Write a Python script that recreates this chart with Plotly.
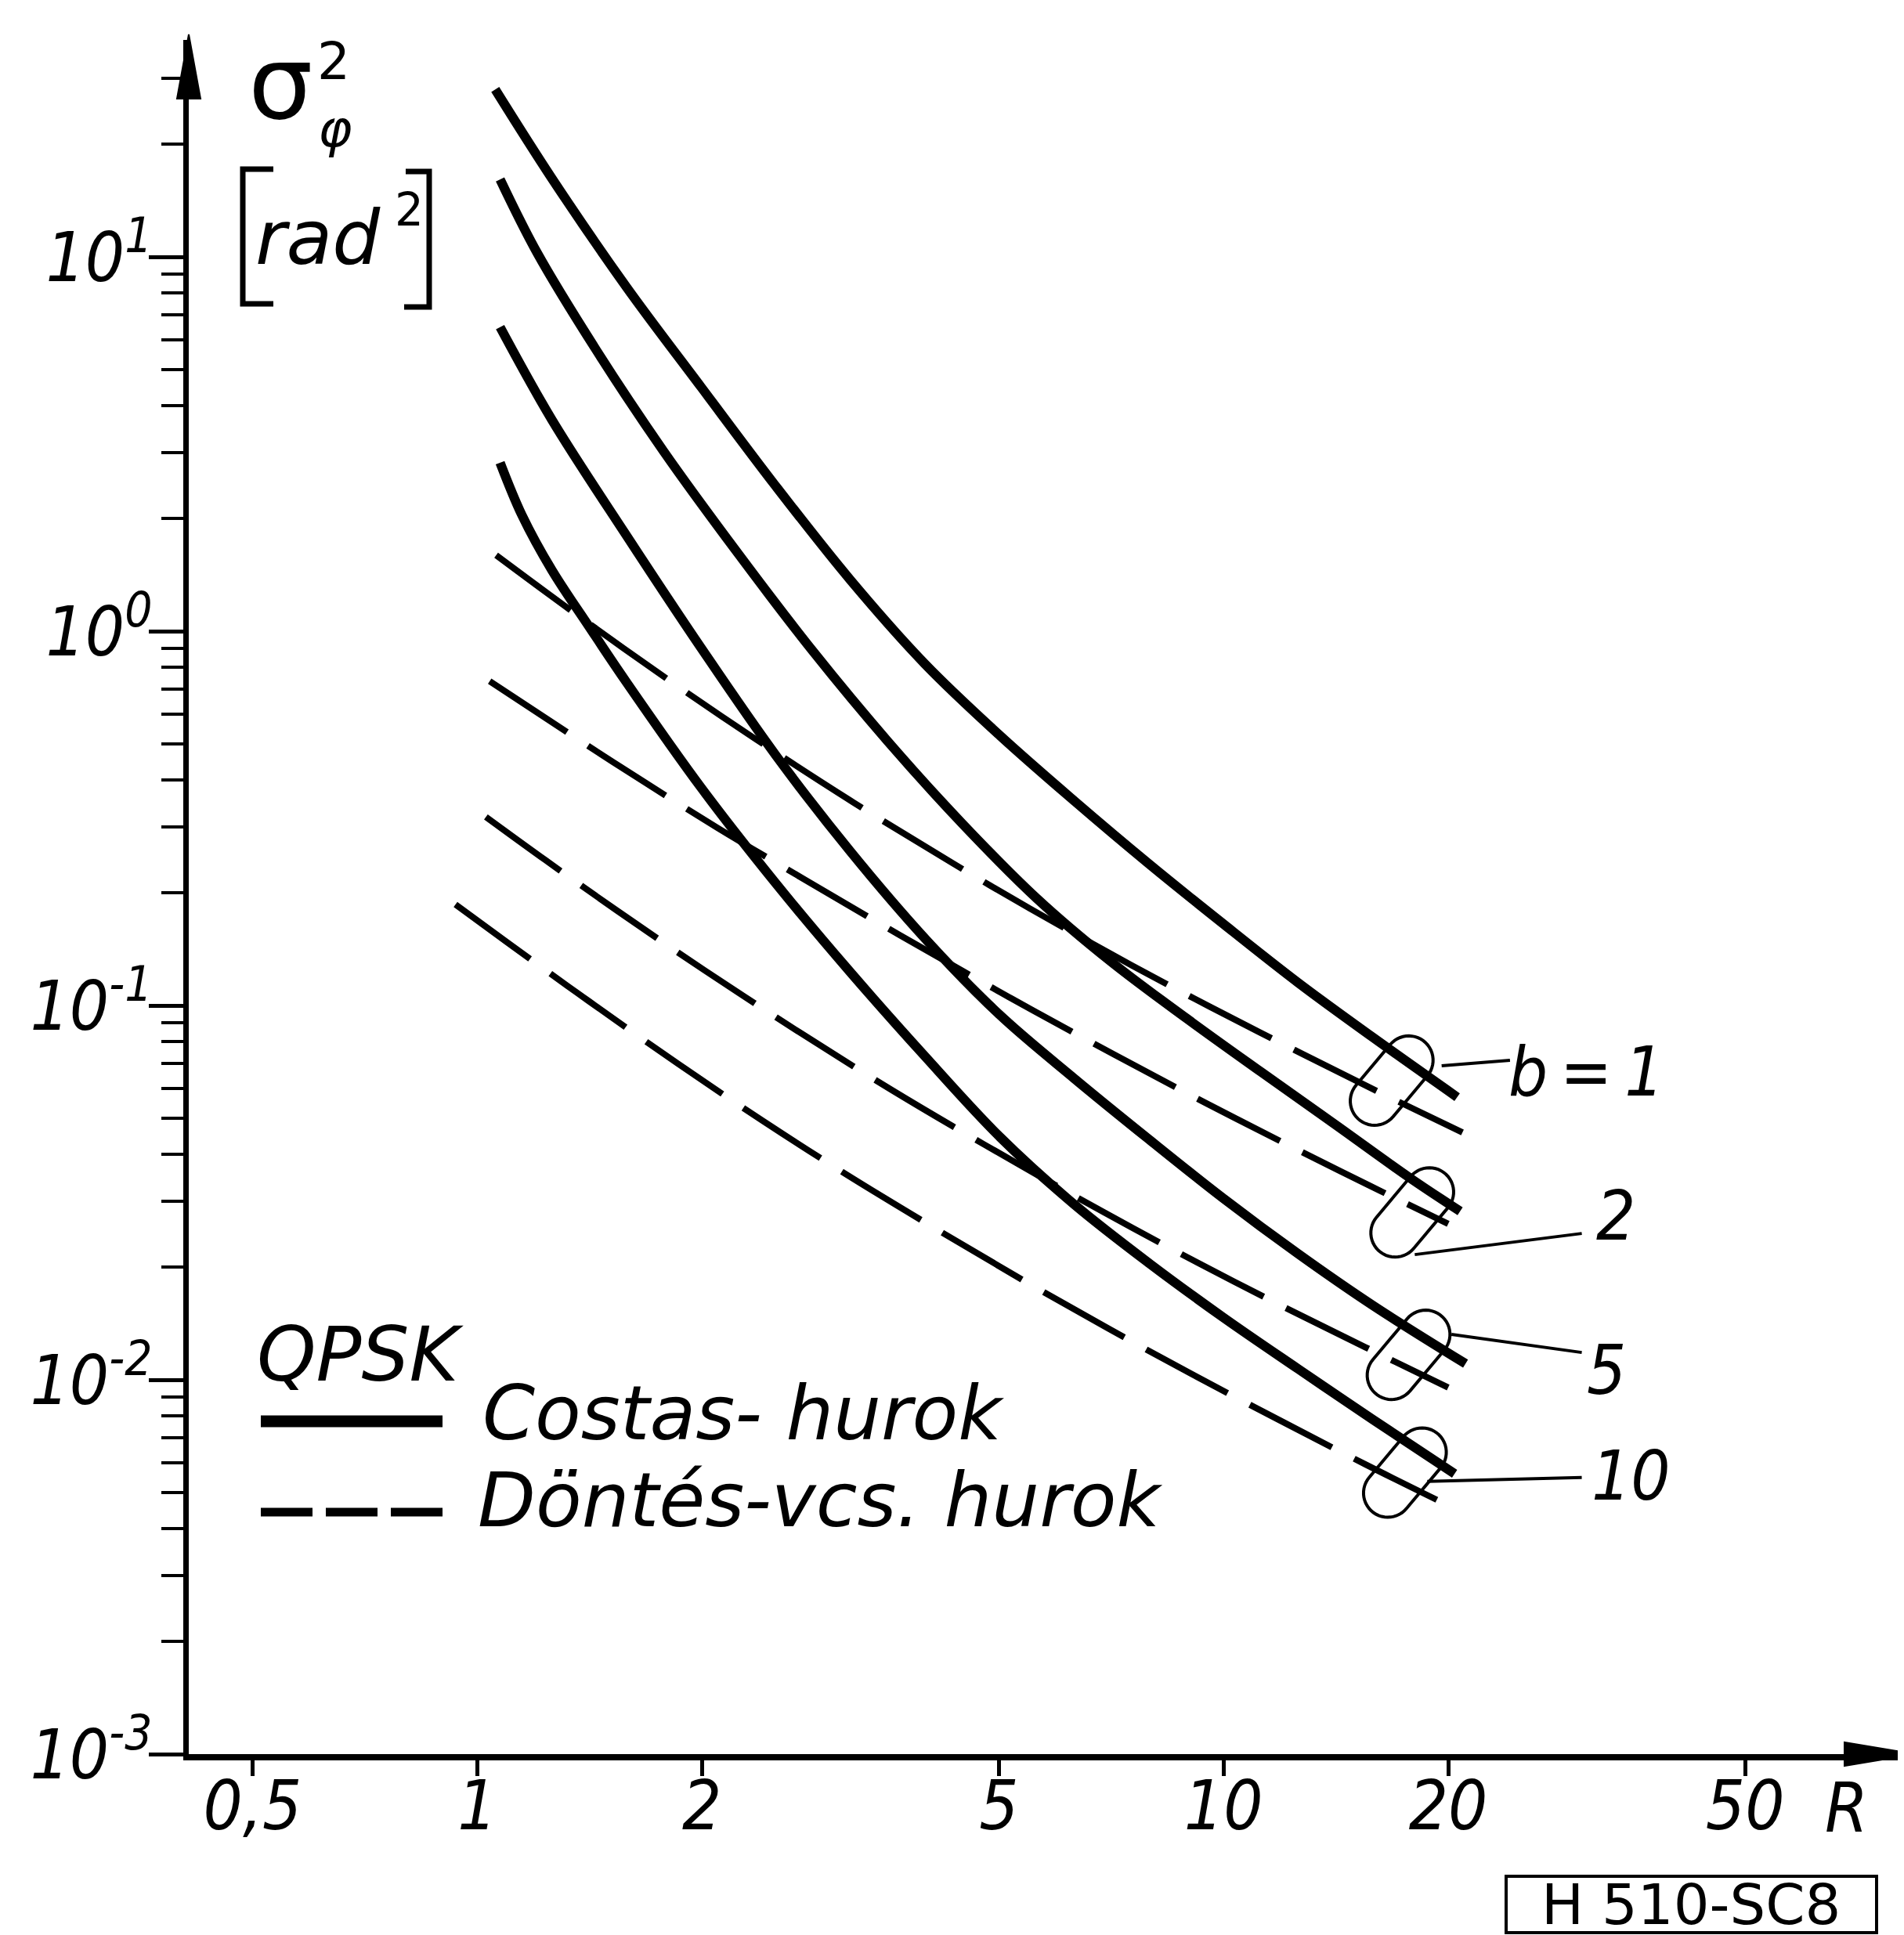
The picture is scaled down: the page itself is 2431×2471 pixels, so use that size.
import numpy as np
import plotly.graph_objects as go

# ---------------- data ----------------
b_values = [1, 2, 5, 10]

R_costas_b1 = [1.057, 1.259, 1.585, 1.995, 2.512, 3.162, 3.981, 5.012, 6.310, 7.943, 10.0, 12.59, 15.85, 20.56]
G_costas_b1 = [28.0, 16.2, 8.30, 4.49, 2.44, 1.37, 0.817, 0.527, 0.352, 0.239, 0.165, 0.115, 0.0822, 0.0569]

R_costas_b2 = [1.073, 1.202, 1.445, 1.778, 2.239, 2.818, 3.548, 4.467, 5.623, 7.079, 8.913, 11.22, 14.13, 17.78, 20.75]
G_costas_b2 = [16.1, 10.28, 5.62, 3.02, 1.607, 0.883, 0.508, 0.306, 0.193, 0.1306, 0.0925, 0.0665, 0.0480, 0.0346, 0.0282]

R_costas_b5 = [1.073, 1.259, 1.585, 1.995, 2.512, 3.162, 3.981, 5.012, 6.310, 7.943, 10.0, 12.59, 15.85, 21.1]
G_costas_b5 = [6.49, 3.67, 1.80, 0.902, 0.466, 0.258, 0.151, 0.0944, 0.0638, 0.0439, 0.0305, 0.0217, 0.0158, 0.01104]

R_costas_b10 = [1.073, 1.148, 1.259, 1.413, 1.585, 1.995, 2.512, 3.162, 3.981, 5.012, 6.310, 7.943, 10.0, 12.59, 15.85, 20.4]
G_costas_b10 = [2.82, 2.04, 1.455, 1.026, 0.730, 0.382, 0.212, 0.1227, 0.0731, 0.0446, 0.0294, 0.0205, 0.01466, 0.01069, 0.00783, 0.00561]

R_dd_b1 = [1.060, 1.373, 1.844, 2.36, 3.19, 4.32, 5.50, 7.54, 9.60, 12.74, 16.5, 20.9]
G_dd_b1 = [1.596, 1.091, 0.719, 0.515, 0.349, 0.241, 0.1816, 0.1279, 0.0991, 0.0743, 0.0575, 0.0458]

R_dd_b2 = [1.039, 1.356, 1.662, 2.10, 2.735, 3.68, 5.15, 7.14, 9.48, 12.58, 15.7, 20.0]
G_dd_b2 = [0.735, 0.5185, 0.399, 0.298, 0.218, 0.1543, 0.1055, 0.0739, 0.0548, 0.0411, 0.0330, 0.0261]

R_dd_b5 = [1.027, 1.234, 1.542, 2.012, 2.70, 3.59, 4.78, 6.92, 8.65, 11.7, 15.5, 20.0]
G_dd_b5 = [0.319, 0.2446, 0.1788, 0.1245, 0.0849, 0.0595, 0.0425, 0.02799, 0.02201, 0.01612, 0.01221, 0.00954]

R_dd_b10 = [0.935, 1.099, 1.413, 1.857, 2.416, 3.10, 4.10, 5.37, 7.01, 9.08, 11.93, 15.5, 19.9]
G_dd_b10 = [0.1862, 0.1470, 0.1025, 0.0699, 0.0491, 0.0357, 0.02543, 0.01852, 0.01371, 0.01034, 0.00777, 0.00594, 0.00464]

x_tickvals = [0.5, 1, 2, 5, 10, 20, 50]
x_ticktext = ["0,5", "1", "2", "5", "10", "20", "50"]
y_tickvals = [1e-3, 1e-2, 1e-1, 1e0, 1e1]
y_ticktext = ["10<sup>-3</sup>", "10<sup>-2</sup>", "10<sup>-1</sup>", "10<sup>0</sup>", "10<sup>1</sup>"]
label_texts = ["b\u2009=\u20091", "2", "5", "10"]

# ---------------- layout geometry ----------------
W, H = 2431, 2471
ML, MR, MT, MB = 233, 0, 43, 239
PW, PH = W - ML - MR, H - MT - MB
XR = [-0.3866, 1.9202]
YR = [-3.0, 1.5795]

TXT = "DejaVu Sans"
NUM = "Liberation Sans Narrow, DejaVu Sans Condensed, DejaVu Sans"
FS = 96
FN = 88

def dpx(R):
    return (np.log10(R) - XR[0]) / (XR[1] - XR[0])

def dpy(G):
    return (np.log10(G) - YR[0]) / (YR[1] - YR[0])

def ppx(X):
    return (X - ML) / PW

def ppy(Y):
    return (H - MB - Y) / PH

fig = go.Figure()

costas = [(R_costas_b1, G_costas_b1), (R_costas_b2, G_costas_b2),
          (R_costas_b5, G_costas_b5), (R_costas_b10, G_costas_b10)]
dd = [(R_dd_b1, G_dd_b1), (R_dd_b2, G_dd_b2), (R_dd_b5, G_dd_b5), (R_dd_b10, G_dd_b10)]

for b, (rx, gy) in zip(b_values, dd):
    fig.add_trace(go.Scatter(x=rx, y=gy, mode="lines", name=f"Döntés-vcs. hurok b={b}",
                             line=dict(color="black", width=8, dash="118px,32px",
                                       shape="spline", smoothing=1.0),
                             showlegend=False))
for b, (rx, gy) in zip(b_values, costas):
    fig.add_trace(go.Scatter(x=rx, y=gy, mode="lines", name=f"Costas-hurok b={b}",
                             line=dict(color="black", width=12, shape="spline", smoothing=1.0),
                             showlegend=False))

shapes = []
annotations = []

# capsules around the curve ends (decoration anchored in data space)
capsule_centers = [(16.8, 0.0630), (17.9, 0.028), (17.7, 0.01166), (17.5, 0.00565)]

def capsule(Rc, Gc, h=34, r=31, ang=50):
    cx, cy = dpx(Rc), dpy(Gc)
    a = np.radians(ang)
    ux, uy = np.cos(a), np.sin(a)
    pts = []
    for sgn, start in ((1, a + np.pi / 2), (-1, a - np.pi / 2)):
        for p in np.linspace(start, start - np.pi, 26):
            ox = sgn * h * ux + r * np.cos(p)
            oy = sgn * h * uy + r * np.sin(p)
            pts.append((cx + ox / PW, cy + oy / PH))
    return "M " + " L ".join(f"{x:.5f},{y:.5f}" for x, y in pts) + " Z"

for (Rc, Gc) in capsule_centers:
    shapes.append(dict(type="path", xref="paper", yref="paper", path=capsule(Rc, Gc),
                       line=dict(color="black", width=4)))

# leader lines and labels
leader_from = [(19.6, 0.0690), (18.04, 0.0216), (20.2, 0.01322), (18.75, 0.00535)]
leader_to = [(24.2, 0.0714), (30.2, 0.0246), (30.2, 0.01183), (30.2, 0.00548)]
label_pos = [(24.0, 0.0667), (31.4, 0.0274), (30.5, 0.0106), (31.0, 0.00553)]
for (r0, g0), (r1, g1) in zip(leader_from, leader_to):
    shapes.append(dict(type="line", xref="paper", yref="paper",
                       x0=dpx(r0), y0=dpy(g0), x1=dpx(r1), y1=dpy(g1),
                       line=dict(color="black", width=4)))
for txt, (rl, gl) in zip(label_texts, label_pos):
    annotations.append(dict(text=f"<i>{txt}</i>", x=dpx(rl), y=dpy(gl),
                            xanchor="left", yanchor="middle",
                            font=dict(family=NUM, size=FN, color="black")))

# axis arrow heads
def poly(points, close=True):
    s = "M " + " L ".join(f"{ppx(X):.5f},{ppy(Y):.5f}" for X, Y in points)
    return s + (" Z" if close else "")

shapes.append(dict(type="path", xref="paper", yref="paper",
                   path=poly([(ML, 36), (ML - 15, 118), (ML + 15, 118)]),
                   fillcolor="black", line=dict(color="black", width=2)))
shapes.append(dict(type="path", xref="paper", yref="paper",
                   path=poly([(W + 6, H - MB), (W - 84, H - MB - 15), (W - 84, H - MB + 15)]),
                   fillcolor="black", line=dict(color="black", width=2)))

# y-axis unit label [rad^2]
for pts in ([(341, 208), (302, 208), (302, 380), (341, 380)],
            [(510, 211), (540, 211), (540, 384), (508, 384)]):
    shapes.append(dict(type="path", xref="paper", yref="paper", path=poly(pts, close=False),
                       line=dict(color="black", width=7)))
annotations += [
    dict(text="<i>rad</i>", x=ppx(316), y=ppy(296), xanchor="left", yanchor="middle",
         font=dict(family=TXT, size=FS, color="black")),
    dict(text="2", x=ppx(514), y=ppy(260), xanchor="center", yanchor="middle",
         font=dict(family=TXT, size=58, color="black")),
    dict(text="σ", x=ppx(350), y=ppy(98), xanchor="center", yanchor="middle",
         font=dict(family=TXT, size=130, color="black")),
    dict(text="2", x=ppx(418), y=ppy(70), xanchor="center", yanchor="middle",
         font=dict(family=TXT, size=66, color="black")),
    dict(text="<i>φ</i>", x=ppx(420), y=ppy(156), xanchor="center", yanchor="middle",
         font=dict(family=TXT, size=66, color="black")),
]

# x axis title R
annotations.append(dict(text="<i>R</i>", x=ppx(2349), y=ppy(2300), xanchor="center",
                        yanchor="middle", font=dict(family=NUM, size=FN, color="black")))

# legend (manual)
shapes.append(dict(type="line", xref="paper", yref="paper", x0=ppx(325), y0=ppy(1807),
                   x1=ppx(557), y1=ppy(1807), line=dict(color="black", width=15)))
shapes.append(dict(type="line", xref="paper", yref="paper", x0=ppx(325), y0=ppy(1923),
                   x1=ppx(557), y1=ppy(1923), line=dict(color="black", width=11, dash="66px,17px")))
annotations += [
    dict(text="<i>QPSK</i>", x=ppx(318), y=ppy(1722), xanchor="left", yanchor="middle",
         font=dict(family=TXT, size=FS, color="black")),
    dict(text="<i>Costas- hurok</i>", x=ppx(606), y=ppy(1797), xanchor="left", yanchor="middle",
         font=dict(family=TXT, size=FS, color="black")),
    dict(text="<i>Döntés-vcs. hurok</i>", x=ppx(600), y=ppy(1908), xanchor="left", yanchor="middle",
         font=dict(family=TXT, size=FS, color="black")),
]

# figure code box
shapes.append(dict(type="rect", xref="paper", yref="paper",
                   x0=ppx(1915), y0=ppy(2460), x1=ppx(2388), y1=ppy(2388),
                   line=dict(color="black", width=4), fillcolor="white"))
annotations.append(dict(text="H 510-SC8", x=ppx(2151), y=ppy(2424), xanchor="center",
                        yanchor="middle", font=dict(family=TXT, size=72, color="black")))

for a in annotations:
    a.setdefault("xref", "paper")
    a.setdefault("yref", "paper")
    a.setdefault("showarrow", False)

minor_y = [m * 10.0 ** e for e in range(-3, 1) for m in range(2, 10)] + [20, 30]

fig.update_layout(
    template="none",
    width=W, height=H,
    margin=dict(l=ML, r=MR, t=MT, b=MB, pad=0, autoexpand=False),
    paper_bgcolor="white", plot_bgcolor="white",
    showlegend=False,
    shapes=shapes, annotations=annotations,
    xaxis=dict(type="log", range=XR, tickmode="array", tickvals=x_tickvals,
               ticktext=[f"<i>{t}</i>" for t in x_ticktext],
               ticks="outside", ticklen=20, tickwidth=5, tickcolor="black",
               ticklabelstandoff=-38,
               showline=True, linewidth=8, linecolor="black",
               showgrid=False, zeroline=False, automargin=False,
               tickfont=dict(family=NUM, size=FN, color="black")),
    yaxis=dict(type="log", range=YR, tickmode="array", tickvals=y_tickvals,
               ticktext=[f"<i>{t}</i>" for t in y_ticktext],
               ticks="outside", ticklen=44, tickwidth=5, tickcolor="black",
               ticklabelstandoff=-22,
               minor=dict(tickmode="array", tickvals=minor_y, ticks="outside",
                          ticklen=28, tickwidth=4, tickcolor="black", showgrid=False),
               showline=True, linewidth=7, linecolor="black",
               showgrid=False, zeroline=False, automargin=False,
               tickfont=dict(family=NUM, size=FN, color="black")),
)

fig.write_html("out.html", config={"displayModeBar": False})
